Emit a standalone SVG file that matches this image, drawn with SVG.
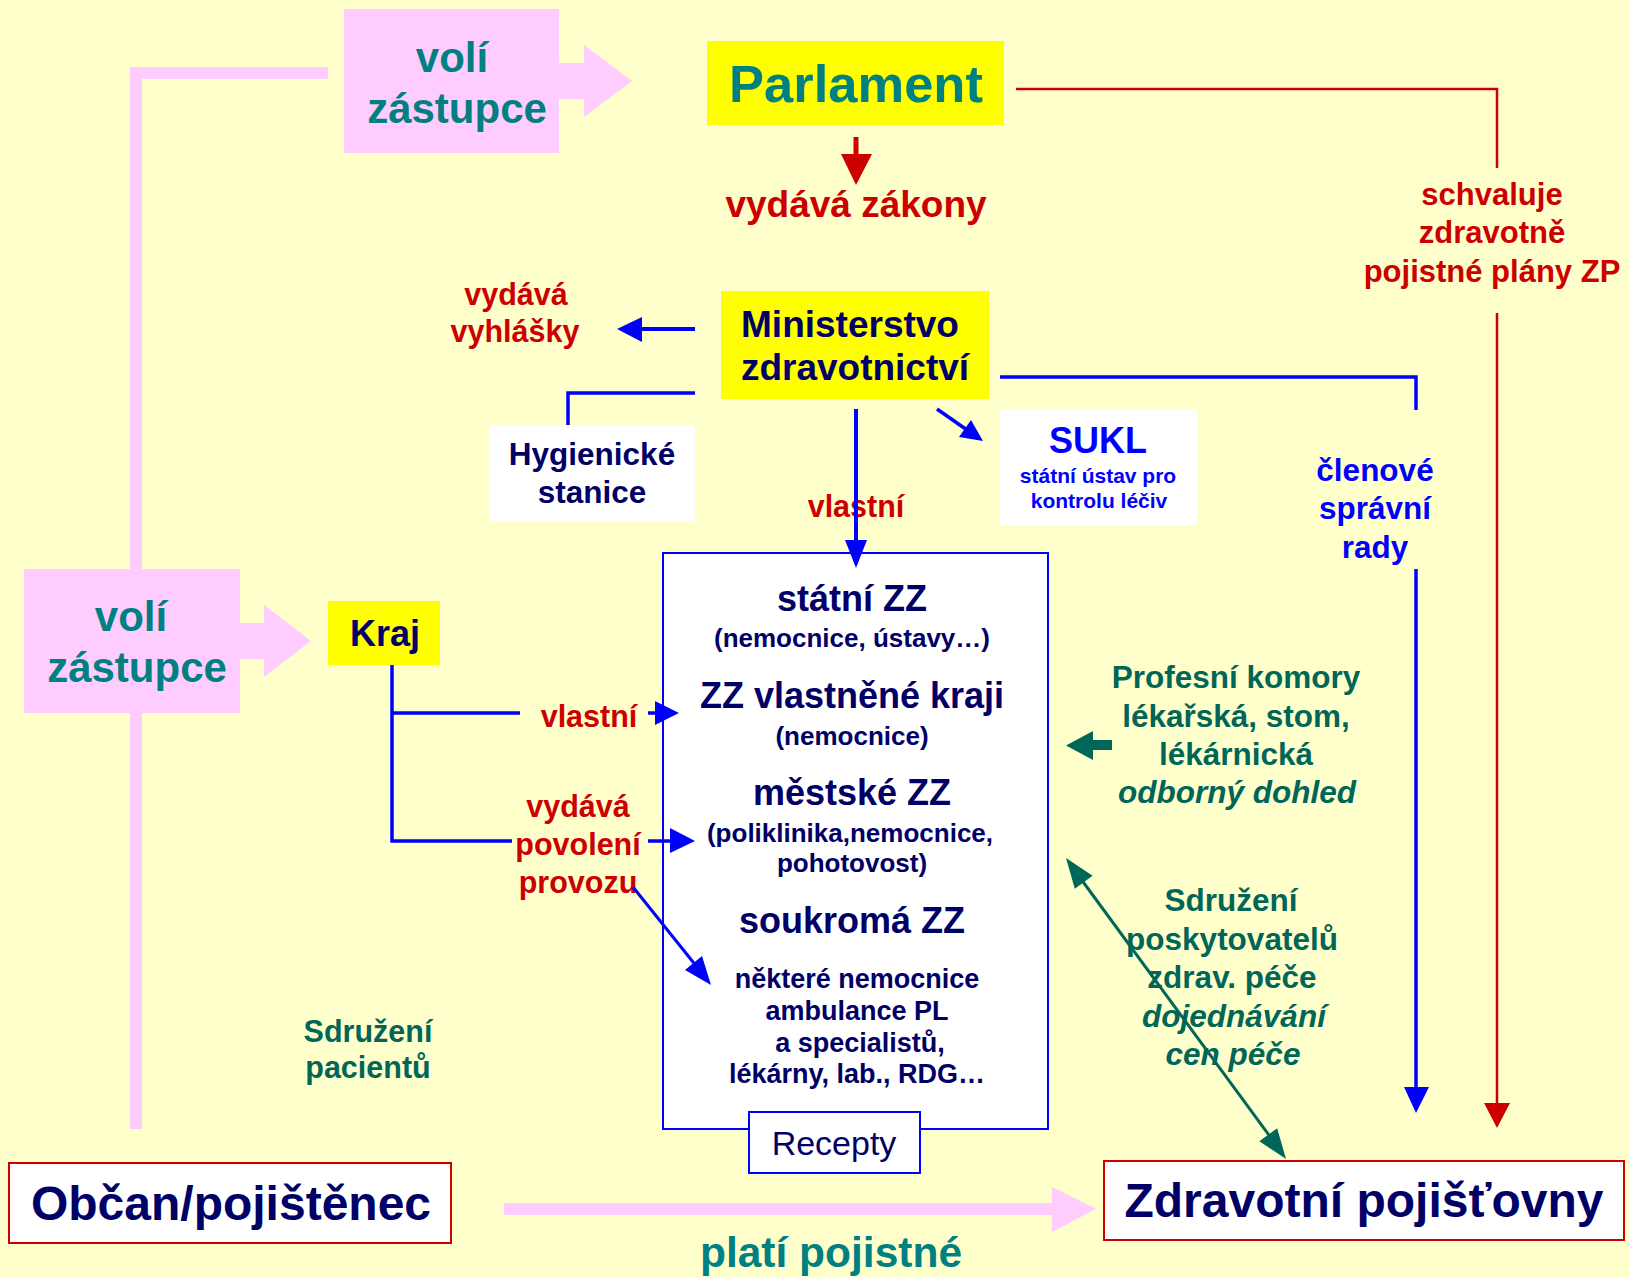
<svg xmlns="http://www.w3.org/2000/svg" width="1629" height="1278" viewBox="0 0 1629 1278">
<style>
text{font-family:"Liberation Sans",Arial,sans-serif;font-weight:bold;text-anchor:middle}
.navy{fill:#000066}
.teal{fill:#008080}
.dteal{fill:#006658}
.red{fill:#CC0000}
.blue{fill:#0000FF}
.it{font-style:italic}
.pink{fill:#FFCCFF}
.bl{stroke:#0000FF;fill:none}
.rd{stroke:#CC0000;fill:none}
.tl{stroke:#006658;fill:none}
</style>
<rect width="1629" height="1278" fill="#FFFFCC"/>

<g id="pink-lines">
<rect class="pink" x="130" y="67" width="198" height="12"/>
<rect class="pink" x="130" y="67" width="12" height="1062"/>
</g>

<g id="voli-zastupce-top">
<rect class="pink" x="344" y="9" width="215" height="144"/>
<polygon class="pink" points="559,63 584,63 584,45 632,81 584,117 584,99 559,99"/>
<text class="teal" x="452" y="72" font-size="42">volí</text>
<text class="teal" x="457" y="123" font-size="42">zástupce</text>
</g>

<g id="voli-zastupce-left">
<rect class="pink" x="24" y="569" width="216" height="144"/>
<polygon class="pink" points="240,623 264,623 264,605 311,641 264,677 264,659 240,659"/>
<text class="teal" x="131" y="631" font-size="42">volí</text>
<text class="teal" x="137" y="682" font-size="42">zástupce</text>
</g>

<g id="plati-pojistne">
<polygon class="pink" points="504,1203 1052,1203 1052,1187 1096,1209 1052,1232 1052,1215 504,1215"/>
<text class="teal" x="831" y="1267" font-size="42.5">platí pojistné</text>
</g>

<g id="parlament">
<rect x="707" y="41" width="297" height="84" fill="#FFFF00"/>
<text class="teal" x="856" y="102" font-size="52.5">Parlament</text>
</g>

<g id="ministerstvo">
<rect x="721" y="291" width="268" height="108" fill="#FFFF00"/>
<text class="navy" x="850" y="337" font-size="37">Ministerstvo</text>
<text class="navy" x="855" y="380" font-size="37">zdravotnictví</text>
</g>

<g id="hygienicke">
<rect x="489" y="425" width="206" height="96" fill="#FFFFFF"/>
<text class="navy" x="592" y="465" font-size="31.5">Hygienické</text>
<text class="navy" x="592" y="503" font-size="31.5">stanice</text>
</g>

<g id="sukl">
<rect x="1000" y="409" width="197" height="116" fill="#FFFFFF"/>
<text class="blue" x="1098" y="453" font-size="36">SUKL</text>
<text class="blue" x="1098" y="483" font-size="21">státní ústav pro</text>
<text class="blue" x="1099" y="508" font-size="21">kontrolu léčiv</text>
</g>

<g id="kraj">
<rect x="328" y="601" width="112" height="64" fill="#FFFF00"/>
<text class="navy" x="385" y="646" font-size="36">Kraj</text>
</g>

<g id="zz">
<rect x="663" y="553" width="385" height="576" fill="#FFFFFF" stroke="#0000FF" stroke-width="2"/>
<text class="navy" x="852" y="611" font-size="36">státní ZZ</text>
<text class="navy" x="852" y="647" font-size="26">(nemocnice, ústavy…)</text>
<text class="navy" x="852" y="708" font-size="36">ZZ vlastněné kraji</text>
<text class="navy" x="852" y="745" font-size="26">(nemocnice)</text>
<text class="navy" x="852" y="805" font-size="36">městské ZZ</text>
<text class="navy" x="850" y="842" font-size="26">(poliklinika,nemocnice,</text>
<text class="navy" x="852" y="872" font-size="26">pohotovost)</text>
<text class="navy" x="852" y="933" font-size="36">soukromá ZZ</text>
<text class="navy" x="857" y="988" font-size="27">některé nemocnice</text>
<text class="navy" x="857" y="1020" font-size="27">ambulance PL</text>
<text class="navy" x="860" y="1052" font-size="27">a specialistů,</text>
<text class="navy" x="857" y="1083" font-size="27">lékárny, lab., RDG…</text>
</g>

<g id="recepty">
<rect x="749" y="1112" width="171" height="61" fill="#FFFFFF" stroke="#0000FF" stroke-width="2"/>
<text class="navy" x="834" y="1155" font-size="34" style="font-weight:normal">Recepty</text>
</g>

<g id="obcan">
<rect x="9" y="1163" width="442" height="80" fill="#FFFFFF" stroke="#CC0000" stroke-width="2"/>
<text class="navy" x="231" y="1220" font-size="48">Občan/pojištěnec</text>
</g>

<g id="pojistovny">
<rect x="1104" y="1161" width="520" height="79" fill="#FFFFFF" stroke="#CC0000" stroke-width="2"/>
<text class="navy" x="1364" y="1217" font-size="48">Zdravotní pojišťovny</text>
</g>

<g id="labels">
<text class="red" x="856" y="217" font-size="37">vydává zákony</text>
<text class="red" x="516" y="305" font-size="30.5">vydává</text>
<text class="red" x="515" y="342" font-size="30.5">vyhlášky</text>
<text class="red" x="856" y="517" font-size="30.5">vlastní</text>
<text class="red" x="589" y="727" font-size="30.5">vlastní</text>
<text class="red" x="578" y="817" font-size="30.5">vydává</text>
<text class="red" x="578" y="855" font-size="30.5">povolení</text>
<text class="red" x="578" y="893" font-size="30.5">provozu</text>
<text class="red" x="1492" y="205" font-size="31">schvaluje</text>
<text class="red" x="1492" y="243" font-size="31">zdravotně</text>
<text class="red" x="1492" y="282" font-size="31">pojistné plány ZP</text>
<text class="blue" x="1375" y="481" font-size="31.5">členové</text>
<text class="blue" x="1375" y="519" font-size="31.5">správní</text>
<text class="blue" x="1375" y="558" font-size="31.5">rady</text>
<text class="dteal" x="1236" y="688" font-size="31.5">Profesní komory</text>
<text class="dteal" x="1236" y="727" font-size="31.5">lékařská, stom,</text>
<text class="dteal" x="1236" y="765" font-size="31.5">lékárnická</text>
<text class="dteal it" x="1237" y="803" font-size="31.5">odborný dohled</text>
<text class="dteal" x="1231" y="911" font-size="31.5">Sdružení</text>
<text class="dteal" x="1232" y="950" font-size="31.5">poskytovatelů</text>
<text class="dteal" x="1232" y="988" font-size="31.5">zdrav. péče</text>
<text class="dteal it" x="1234" y="1027" font-size="31.5">dojednávání</text>
<text class="dteal it" x="1233" y="1065" font-size="31.5">cen péče</text>
<text class="dteal" x="368" y="1042" font-size="30.5">Sdružení</text>
<text class="dteal" x="368" y="1078" font-size="30.5">pacientů</text>
</g>

<g id="connectors">
<polyline class="rd" stroke-width="2.5" points="1016,89 1497,89 1497,168"/>
<line class="rd" stroke-width="2.5" x1="1497" y1="313" x2="1497" y2="1106"/>
<polygon fill="#CC0000" points="1484,1103 1510,1103 1497,1128"/>
<line class="rd" stroke-width="5" x1="856" y1="137" x2="856" y2="157"/>
<polygon fill="#CC0000" points="841,154 872,154 856,185"/>

<polyline class="bl" stroke-width="3.5" points="1000,377 1416,377 1416,410"/>
<line class="bl" stroke-width="3.5" x1="1416" y1="569" x2="1416" y2="1090"/>
<polygon fill="#0000FF" points="1404,1087 1429,1087 1416,1113"/>

<line class="bl" stroke-width="4" x1="695" y1="329" x2="638" y2="329"/>
<polygon fill="#0000FF" points="642,317 617,329 642,342"/>
<polyline class="bl" stroke-width="3.5" points="695,393 568,393 568,425"/>

<line class="bl" stroke-width="4" x1="856" y1="409" x2="856" y2="545"/>
<polygon fill="#0000FF" points="845,540 867,540 856,568"/>

<line class="bl" stroke-width="3.5" x1="937" y1="409" x2="967" y2="430"/>
<polygon fill="#0000FF" points="959,437 971,420 983,441"/>

<polyline class="bl" stroke-width="3.5" points="392,665 392,841 512,841"/>
<line class="bl" stroke-width="3.5" x1="392" y1="713" x2="520" y2="713"/>
<line class="bl" stroke-width="3.5" x1="648" y1="713" x2="660" y2="713"/>
<polygon fill="#0000FF" points="655,701 679,713 655,725"/>
<line class="bl" stroke-width="3.5" x1="648" y1="841" x2="672" y2="841"/>
<polygon fill="#0000FF" points="670,828 695,841 670,853"/>
<line class="bl" stroke-width="3" x1="633" y1="887" x2="697" y2="967"/>
<polygon fill="#0000FF" points="685,970 702,956 711,985"/>

<line class="tl" stroke-width="3" x1="1078" y1="875" x2="1274" y2="1142"/>
<polygon fill="#006658" points="1066,858 1092.6,875.7 1074.8,888.7"/>
<polygon fill="#006658" points="1286,1159 1259.4,1141.3 1277.2,1128.3"/>
<polygon fill="#006658" points="1112,740 1093,740 1093,731 1066,745.5 1093,760 1093,750 1112,750"/>
</g>
</svg>
